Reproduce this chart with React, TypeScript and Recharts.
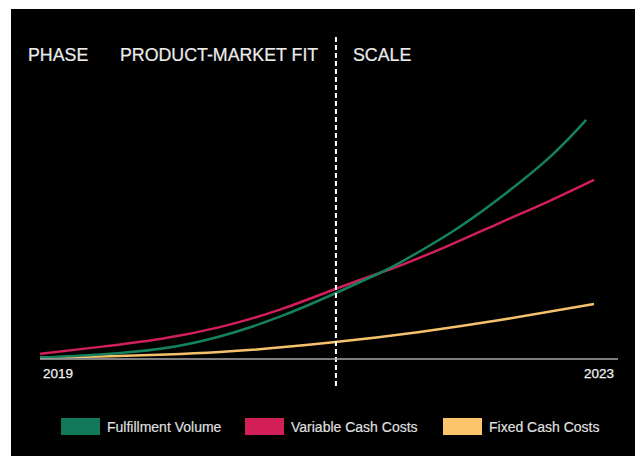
import React from 'react';
import { LineChart, Line, XAxis, YAxis, ReferenceLine } from 'recharts';

// x: share of timeline 2019 -> 2023 (0..100), y: relative value (0..100)
const fulfillmentVolume = [
  { t: 0, v: 0.5 },
  { t: 10.4, v: 1.6 },
  { t: 20.8, v: 3.6 },
  { t: 31.1, v: 8.0 },
  { t: 41.5, v: 15.0 },
  { t: 51.2, v: 23.4 },
  { t: 58.8, v: 30.5 },
  { t: 62.3, v: 34.2 },
  { t: 70.9, v: 44.6 },
  { t: 79.6, v: 57.2 },
  { t: 88.2, v: 71.6 },
  { t: 94.5, v: 84.8 },
];

const variableCashCosts = [
  { t: 0, v: 1.8 },
  { t: 10.4, v: 4.3 },
  { t: 20.8, v: 7.1 },
  { t: 31.1, v: 11.3 },
  { t: 41.5, v: 17.5 },
  { t: 51.2, v: 24.9 },
  { t: 58.8, v: 30.5 },
  { t: 62.3, v: 33.1 },
  { t: 70.9, v: 40.4 },
  { t: 79.6, v: 48.3 },
  { t: 88.2, v: 56.1 },
  { t: 95.85, v: 63.5 },
];

const fixedCashCosts = [
  { t: 0, v: 0.5 },
  { t: 10.4, v: 0.9 },
  { t: 31.1, v: 2.5 },
  { t: 50.7, v: 5.9 },
  { t: 65.7, v: 9.6 },
  { t: 79.6, v: 13.8 },
  { t: 95.85, v: 19.5 },
];

const xTicks = [0, 100];
const xTickLabels: Record<number, string> = { 0: '2019', 100: '2023' };
const phaseBoundary = 51.2;
const phaseTop = 114.2;
const phaseBottom = -10.3;

const seriesNames = ['Fulfillment Volume', 'Variable Cash Costs', 'Fixed Cash Costs'];
const lineColors = ['#15815f', '#d11f57', '#f5c26b'];
const swatchColors = ['#13795b', '#d21f58', '#fcc56c'];
const phaseLabels = ['PHASE', 'PRODUCT-MARKET FIT', 'SCALE'];

const FONT = '"Liberation Sans", Arial, Helvetica, sans-serif';

const YearTick = (props: any) => {
  const { x, y, payload } = props;
  const isFirst = payload.value === 0;
  return (
    <text
      x={isFirst ? x + 3 : x - 4}
      y={y + 11}
      textAnchor={isFirst ? 'start' : 'end'}
      fill="#f2f2f2"
      fontSize={13.5}
      fontFamily={FONT}
      stroke="#f2f2f2"
      strokeWidth={0.25}
    >
      {xTickLabels[payload.value]}
    </text>
  );
};

const phaseX = [28, 120, 353];
const legendSwatchX = [61, 245, 443];

export default function App() {
  return (
    <div style={{ position: 'absolute', left: 0, top: 0, width: 639, height: 456, background: '#ffffff', overflow: 'hidden' }}>
      <div style={{ position: 'absolute', left: 11, top: 9, width: 624, height: 447, background: '#000000' }} />
      {phaseLabels.map((p, i) => (
        <div
          key={p}
          style={{
            position: 'absolute',
            left: phaseX[i],
            top: 43.5,
            fontFamily: FONT,
            fontSize: 17.8,
            color: '#ececec',
            lineHeight: '22px',
            whiteSpace: 'nowrap',
            WebkitTextStroke: '0.2px #ececec',
          }}
        >
          {p}
        </div>
      ))}
      <div style={{ position: 'absolute', left: 0, top: 0 }}>
        <LineChart width={639} height={456} margin={{ top: 77, right: 21, bottom: 67, left: 40 }}>
          <XAxis
            type="number"
            dataKey="t"
            domain={[0, 100]}
            ticks={xTicks}
            tick={<YearTick />}
            tickLine={false}
            axisLine={{ stroke: '#a8a8a8', strokeWidth: 1.5 }}
            height={30}
            allowDuplicatedCategory={false}
          />
          <YAxis
            type="number"
            dataKey="v"
            domain={[0, 100]}
            width={0}
            tick={false}
            tickLine={false}
            axisLine={{ stroke: '#a8a8a8', strokeWidth: 1.5 }}
          />
          <Line data={fixedCashCosts} dataKey="v" type="natural" stroke={lineColors[2]} strokeWidth={2.5} dot={false} isAnimationActive={false} />
          <Line data={variableCashCosts} dataKey="v" type="natural" stroke={lineColors[1]} strokeWidth={2.5} dot={false} isAnimationActive={false} />
          <Line data={fulfillmentVolume} dataKey="v" type="natural" stroke={lineColors[0]} strokeWidth={2.5} dot={false} isAnimationActive={false} />
          <ReferenceLine
            segment={[{ x: phaseBoundary, y: phaseTop }, { x: phaseBoundary, y: phaseBottom }]}
            ifOverflow="visible"
            stroke="#ffffff"
            strokeWidth={2}
            strokeDasharray="5 3"
          />
        </LineChart>
      </div>
      {seriesNames.map((name, i) => (
        <div
          key={name}
          style={{
            position: 'absolute',
            left: legendSwatchX[i],
            top: 418,
            display: 'flex',
            alignItems: 'center',
            whiteSpace: 'nowrap',
          }}
        >
          <div style={{ width: 39, height: 17, background: swatchColors[i] }} />
          <span style={{ marginLeft: 7, fontFamily: FONT, fontSize: 14, color: '#e0e0e0', WebkitTextStroke: '0.15px #e0e0e0' }}>{name}</span>
        </div>
      ))}
    </div>
  );
}
